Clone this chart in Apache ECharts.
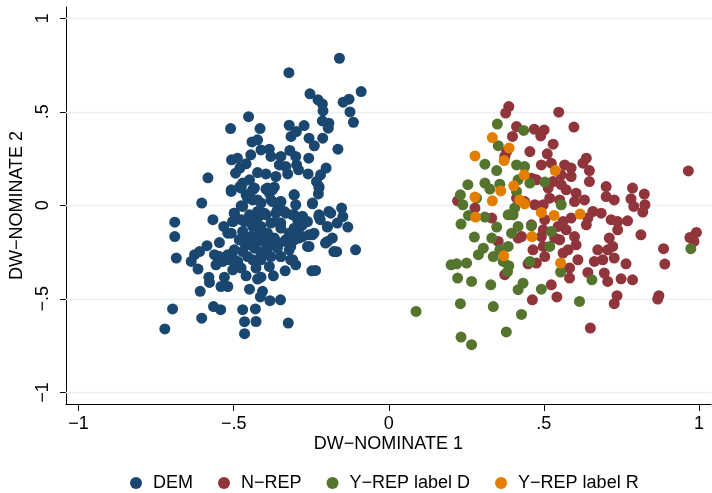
<!DOCTYPE html>
<html>
<head>
<meta charset="utf-8">
<script src="https://cdn.jsdelivr.net/npm/echarts@6/dist/echarts.min.js"></script>
<style>html,body{margin:0;padding:0;background:#fff}#c{width:712px;height:493px}</style>
</head>
<body>
<div id="c"></div>
<script>
var seriesNames = ['DEM', 'N\u2212REP', 'Y\u2212REP label D', 'Y\u2212REP label R'];
var xTickValues = [-1, -0.5, 0, 0.5, 1];
var xTickLabels = ['\u22121', '\u2212.5', '0', '.5', '1'];
var yTickValues = [-1, -0.5, 0, 0.5, 1];
var yTickLabels = ['\u22121', '\u2212.5', '0', '.5', '1'];

var demPoints = [
[-0.159,0.786],[-0.322,0.709],[-0.089,0.608],[-0.254,0.596],[-0.228,0.564],[-0.214,0.542],[-0.212,0.505],[-0.147,0.551],[-0.128,0.567],[-0.125,0.499],[-0.114,0.444],[-0.452,0.474],[-0.510,0.410],[-0.415,0.410],[-0.321,0.428],[-0.298,0.394],[-0.273,0.426],[-0.315,0.368],[-0.214,0.451],[-0.193,0.439],[-0.195,0.412],[-0.257,0.359],[-0.240,0.318],[-0.213,0.359],[-0.164,0.300],[-0.441,0.339],[-0.423,0.350],[-0.412,0.296],[-0.385,0.300],[-0.380,0.261],[-0.445,0.270],[-0.507,0.243],[-0.488,0.252],[-0.460,0.222],[-0.480,0.199],[-0.494,0.172],[-0.583,0.147],[-0.319,0.293],[-0.348,0.261],[-0.300,0.261],[-0.258,0.252],[-0.353,0.216],[-0.332,0.207],[-0.297,0.216],[-0.326,0.168],[-0.291,0.190],[-0.364,0.154],[-0.423,0.175],[-0.396,0.168],[-0.260,0.168],[-0.202,0.199],[-0.220,0.163],[-0.233,0.127],[-0.225,0.100],[-0.471,0.119],[-0.449,0.136],[-0.480,0.100],[-0.433,0.092],[-0.396,0.087],[-0.369,0.097],
[-0.603,0.012],[-0.690,-0.090],[-0.690,-0.167],[-0.685,-0.282],[-0.567,-0.077],[-0.508,0.074],[-0.476,-0.003],[-0.498,-0.042],[-0.503,-0.087],[-0.532,-0.113],[-0.519,-0.149],[-0.546,-0.199],[-0.586,-0.216],[-0.610,-0.247],[-0.626,-0.264],[-0.637,-0.300],[-0.615,-0.341],[-0.562,-0.264],[-0.557,-0.318],[-0.535,-0.300],[-0.514,-0.291],[-0.487,-0.300],[-0.476,-0.335],[-0.503,-0.345],[-0.530,-0.384],[-0.541,-0.434],[-0.519,-0.434],[-0.580,-0.384],[-0.578,-0.412],[-0.608,-0.460],[-0.460,-0.377],[-0.449,-0.448],[-0.471,-0.247],[-0.455,-0.211],[-0.465,-0.193],[-0.444,-0.167],[-0.439,-0.113],[-0.465,-0.087],[-0.449,-0.051],[-0.460,0.056],[-0.439,0.029],[-0.412,0.012],[-0.385,0.065],[-0.375,0.020],[-0.348,0.020],[-0.305,0.056],[-0.300,0.003],[-0.227,0.061],[-0.246,0.008],[-0.420,-0.060],[-0.396,-0.051],[-0.364,-0.042],[-0.337,-0.033],[-0.310,-0.051],[-0.278,-0.060],[-0.380,-0.095],[-0.348,-0.095],[-0.284,-0.113],[-0.300,-0.131],[-0.391,-0.149],[-0.417,-0.149],[-0.428,-0.202],[-0.401,-0.193],[-0.375,-0.184],[-0.353,-0.202],[-0.332,-0.193],[-0.305,-0.184],[-0.278,-0.167],[-0.257,-0.158],[-0.241,-0.149],[-0.257,-0.220],[-0.321,-0.238],[-0.348,-0.274],[-0.380,-0.274],[-0.407,-0.247],[-0.439,-0.291],[-0.412,-0.291],[-0.385,-0.327],[-0.428,-0.335],[-0.310,-0.291],[-0.300,-0.318],[-0.334,-0.350],[-0.372,-0.377],[-0.412,-0.384],[-0.423,-0.394],[-0.407,-0.460],[-0.414,-0.490],[-0.383,-0.510],[-0.349,-0.505],[-0.248,-0.350],[-0.236,-0.348],[-0.225,-0.051],[-0.221,-0.077],[-0.193,-0.033],[-0.152,-0.015],[-0.148,-0.060],[-0.166,-0.095],[-0.198,-0.116],[-0.132,-0.116],[-0.182,-0.175],[-0.204,-0.202],[-0.168,-0.248],[-0.107,-0.238],[-0.697,-0.554],[-0.722,-0.661],[-0.603,-0.603],[-0.565,-0.541],[-0.542,-0.558],[-0.471,-0.558],[-0.430,-0.554],[-0.465,-0.622],[-0.428,-0.621],[-0.465,-0.686],[-0.324,-0.629],[-0.482,-0.184],[-0.498,-0.238],[-0.519,-0.264],[-0.546,-0.274],[-0.391,-0.229],[-0.294,-0.077],[-0.262,-0.087],[-0.321,-0.149],
[-0.508,0.083],[-0.476,0.092],[-0.439,0.083],[-0.391,0.092],[-0.375,0.083],[-0.455,0.038],[-0.423,0.029],[-0.380,0.029],[-0.348,0.020],[-0.305,0.056],[-0.246,0.012],[-0.225,0.092],[-0.498,-0.042],[-0.471,-0.006],[-0.423,-0.033],[-0.401,-0.042],[-0.359,-0.024],[-0.332,-0.042],[-0.305,-0.051],[-0.278,-0.060],[-0.225,-0.060],[-0.187,-0.042],[-0.503,-0.087],[-0.476,-0.077],[-0.433,-0.095],[-0.412,-0.113],[-0.364,-0.087],[-0.348,-0.122],[-0.305,-0.122],[-0.278,-0.104],[-0.198,-0.113],[-0.508,-0.149],[-0.471,-0.140],[-0.444,-0.167],[-0.407,-0.158],[-0.369,-0.175],[-0.332,-0.184],[-0.289,-0.175],[-0.246,-0.158],[-0.198,-0.193],[-0.465,-0.202],[-0.433,-0.229],[-0.380,-0.202],[-0.359,-0.229],[-0.316,-0.220],[-0.262,-0.220],[-0.498,-0.291],[-0.455,-0.274],[-0.412,-0.264],[-0.348,-0.274],[-0.316,-0.291],[-0.177,-0.247]
];

var nrepPoints = [
[0.387,0.528],[0.377,0.493],[0.412,0.421],[0.399,0.368],[0.469,0.407],[0.501,0.403],[0.490,0.371],[0.530,0.327],[0.222,0.024],
[0.548,0.498],[0.597,0.418],[0.786,0.092],[0.781,0.035],[0.824,0.060],[0.826,0.003],[0.790,-0.006],[0.819,-0.036],[0.966,0.184],[0.770,-0.083],
[0.374,-0.371],[0.524,-0.425],[0.463,-0.505],[0.542,-0.490],
[0.813,-0.158],[0.765,-0.313],[0.706,-0.407],[0.642,-0.359],[0.695,-0.362],[0.749,-0.393],[0.786,-0.398],[0.583,-0.389],[0.736,-0.483],[0.727,-0.526],[0.867,-0.501],[0.871,-0.483],[0.650,-0.656],[0.886,-0.232],[0.890,-0.314],[0.971,-0.172],[0.992,-0.145],[0.984,-0.193],
[0.455,0.287],[0.511,0.275],[0.492,0.216],[0.524,0.225],[0.567,0.216],[0.588,0.199],[0.637,0.252],[0.626,0.225],[0.647,0.186],[0.588,0.154],[0.556,0.163],[0.530,0.127],[0.556,0.110],[0.514,0.092],[0.476,0.136],[0.460,0.145],[0.572,0.083],[0.604,0.065],[0.647,0.127],[0.701,0.100],[0.701,0.047],[0.727,0.029],[0.631,0.029],[0.599,0.020],[0.551,0.029],[0.519,0.038],[0.498,0.003],[0.471,0.003],[0.438,0.020],[0.412,0.038],
[0.658,-0.033],[0.685,-0.042],[0.642,-0.068],[0.588,-0.068],[0.562,-0.087],[0.572,-0.131],[0.546,-0.113],[0.498,-0.131],[0.492,-0.167],[0.535,-0.175],[0.551,-0.184],[0.599,-0.167],[0.637,-0.104],[0.717,-0.077],[0.738,-0.087],[0.738,-0.131],[0.711,-0.175],[0.722,-0.220],[0.706,-0.238],[0.674,-0.238],[0.690,-0.291],[0.663,-0.300],[0.727,-0.282],[0.604,-0.211],[0.578,-0.238],[0.610,-0.291],[0.498,-0.220],[0.503,-0.274],[0.476,-0.309],[0.465,-0.238],[0.460,-0.104],[0.428,-0.167],[0.417,-0.175],[0.353,-0.193],[0.332,-0.068],[0.278,-0.015],[0.374,0.261],[0.380,0.287],
[0.562,-0.255],[0.583,-0.335],[0.449,-0.313],[0.503,-0.077]
];

var yrepDPoints = [
[0.350,0.434],[0.435,0.400],[0.353,0.319],[0.255,0.110],[0.231,0.056],[0.239,0.003],[0.257,-0.054],
[0.233,-0.100],[0.201,-0.318],[0.219,-0.313],[0.251,-0.309],[0.222,-0.389],[0.267,-0.407],[0.329,-0.425],[0.433,-0.416],[0.417,-0.451],[0.492,-0.448],[0.088,-0.567],[0.231,-0.526],[0.337,-0.541],[0.428,-0.583],[0.379,-0.677],[0.233,-0.704],[0.267,-0.745],[0.383,-0.354],[0.369,-0.300],[0.387,-0.323],
[0.974,-0.232],[0.655,-0.398],[0.615,-0.514],[0.554,-0.357],
[0.310,0.220],[0.348,0.186],[0.412,0.216],[0.438,0.207],[0.417,0.136],[0.455,0.119],[0.503,0.124],[0.310,0.119],[0.326,0.087],[0.358,0.113],[0.283,0.038],[0.412,0.074],[0.406,-0.015],[0.401,-0.051],[0.385,-0.051],[0.310,-0.063],[0.348,-0.116],[0.417,-0.113],[0.460,-0.110],[0.396,-0.149],[0.332,-0.175],[0.276,-0.170],[0.524,-0.140],[0.519,-0.220],[0.556,0.003],[0.305,-0.229],[0.289,-0.264],[0.385,-0.220],[0.358,-0.238],[0.337,-0.274],[0.455,-0.300]
];

var yrepRPoints = [
[0.334,0.362],[0.388,0.306],[0.278,0.264],[0.372,0.239],[0.437,0.163],[0.403,0.104],[0.361,0.077],[0.278,0.044],[0.334,0.024],[0.422,0.029],[0.438,0.008],[0.537,0.186],[0.492,-0.038],[0.533,-0.054],[0.617,-0.047],[0.280,-0.063],[0.462,-0.167],[0.371,-0.270],[0.554,-0.309]
];

var colors = ['#1a476f', '#90353b', '#55752f', '#e37e00'];
var font = 'Liberation Sans, Arial, Helvetica, sans-serif';

function fmtX(v) { var i = xTickValues.indexOf(Math.round(v * 100) / 100); return i >= 0 ? xTickLabels[i] : ''; }
function fmtY(v) { var i = yTickValues.indexOf(Math.round(v * 100) / 100); return i >= 0 ? yTickLabels[i] : ''; }

var chart = echarts.init(document.getElementById('c'), null, { renderer: 'canvas' });
var allData = [demPoints, nrepPoints, yrepDPoints, yrepRPoints];
var series = seriesNames.map(function (n, i) {
  var s = {
    name: n, type: 'scatter', data: allData[i], symbol: 'circle', symbolSize: 11,
    itemStyle: { color: colors[i], opacity: 1 }, z: 2 + i,
    emphasis: { disabled: true }, silent: true
  };
  if (i === 0) {
    s.markLine = {
      silent: true, symbol: 'none', z: 1, animation: false,
      label: { show: false },
      lineStyle: { color: '#eaf2f3', type: 'solid', width: 1.3 },
      emphasis: { disabled: true },
      data: yTickValues.map(function (v) { return { yAxis: v }; })
    };
  }
  return s;
});

chart.setOption({
  animation: false,
  backgroundColor: '#ffffff',
  color: colors,
  textStyle: { fontFamily: font },
  grid: { left: 63, right: 1, top: 7, bottom: 89, containLabel: false },
  legend: {
    data: seriesNames, left: 125, top: 469, icon: 'circle', itemWidth: 12, itemHeight: 12,
    itemGap: 25, textStyle: { fontSize: 18, color: '#000', fontFamily: font, padding: [0, 0, 0, 6] },
    selectedMode: false
  },
  xAxis: {
    type: 'value', min: -1.041, max: 1.039,
    name: 'DW\u2212NOMINATE 1', nameLocation: 'middle', nameGap: 31, nameMoveOverlap: false,
    nameTextStyle: { fontSize: 18, color: '#000', fontFamily: font },
    axisLine: { show: true, onZero: false, lineStyle: { color: '#000', width: 1 } },
    axisTick: { show: true, length: 7, customValues: xTickValues, lineStyle: { color: '#000' } },
    axisLabel: { customValues: xTickValues, formatter: fmtX, fontSize: 18, color: '#000', margin: 11, fontFamily: font },
    splitLine: { show: false }
  },
  yAxis: {
    type: 'value', min: -1.062, max: 1.060,
    name: 'DW\u2212NOMINATE 2', nameLocation: 'middle', nameGap: 39, nameRotate: 90,
    nameTextStyle: { fontSize: 18, color: '#000', fontFamily: font },
    axisLine: { show: true, onZero: false, lineStyle: { color: '#000', width: 1 } },
    axisTick: { show: true, length: 6, customValues: yTickValues, lineStyle: { color: '#000' } },
    axisLabel: { customValues: yTickValues, formatter: fmtY, rotate: 90, fontSize: 18, color: '#000', margin: 14, fontFamily: font },
    splitLine: { show: false }
  },
  series: series
});
</script>
</body>
</html>
